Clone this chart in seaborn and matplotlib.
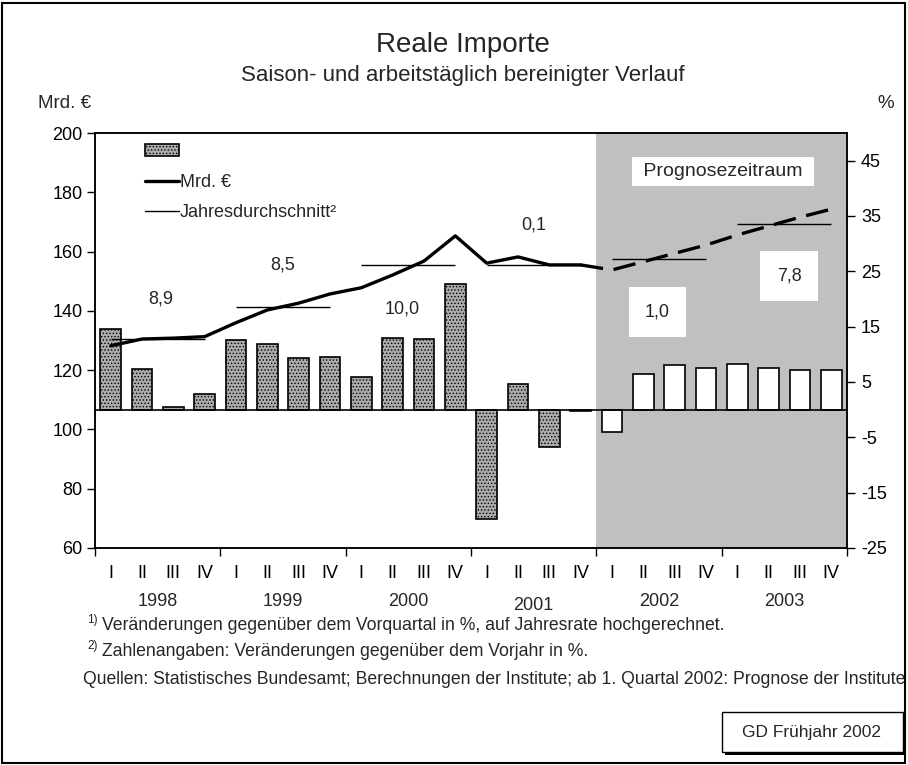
import numpy as np
import pandas as pd
import matplotlib.pyplot as plt
import seaborn as sns
from matplotlib.patches import Patch, Rectangle
from matplotlib.lines import Line2D
from matplotlib.transforms import blended_transform_factory

years = ['1998', '1999', '2000', '2001', '2002', '2003']
quarters = ['I', 'II', 'III', 'IV']

# Veraenderung gegenueber Vorquartal in %, auf Jahresrate hochgerechnet
change_pct = [14.6, 7.3, 0.5, 2.9, 12.5, 11.8, 9.4, 9.5,
              5.9, 13.0, 12.7, 22.7, -19.8, 4.6, -6.7, -0.2,
              -4.0, 6.4, 8.0, 7.6, 8.3, 7.6, 7.2, 7.2]

# Reale Importe in Mrd. Euro (Ist bis 2001 IV, Prognose ab 2001 IV)
imports_actual = [128.2, 130.5, 130.8, 131.3, 136.0, 140.3, 142.6, 145.7,
                  147.8, 152.1, 156.8, 165.3, 156.1, 158.2, 155.5, 155.5]
imports_forecast = [155.5, 153.8, 156.6, 159.4, 162.2, 165.6, 168.6, 171.6, 174.3]

annual_avg = [130.4, 141.3, 155.6, 155.5, 157.4, 169.4]
annual_growth = [8.9, 8.5, 10.0, 0.1, 1.0, 7.8]

forecast_start = 16  # 2002 I

sns.set_style('ticks')
plt.rcParams['font.family'] = ['Liberation Sans', 'DejaVu Sans']
plt.rcParams['axes.unicode_minus'] = False
plt.rcParams['hatch.linewidth'] = 0.6

n = len(years) * len(quarters)
labels = [f'{y} {q}' for y in years for q in quarters]
df = pd.DataFrame({
    'quartal': labels,
    'veraenderung': change_pct,
    'phase': ['Ist' if i < forecast_start else 'Prognose' for i in range(n)],
})

bar_grey = '#ababab'

fig = plt.figure(figsize=(9.08, 7.65), dpi=100)
ax = fig.add_axes([95 / 908, 217 / 765, 752 / 908, 415 / 765])

# Prognosezeitraum grau hinterlegt
ax.axvspan(forecast_start - 0.5, n - 0.5, color='#c0c0c0', lw=0, zorder=0)

sns.barplot(data=df, x='quartal', y='veraenderung', hue='phase',
            palette={'Ist': bar_grey, 'Prognose': 'white'}, dodge=False,
            width=0.65, edgecolor='black', linewidth=1.2, legend=False,
            ax=ax, zorder=2)
for bar in ax.containers[0]:
    bar.set_hatch('.....')

ax.axhline(0, color='black', lw=1.2, zorder=3)
ax.set_xlim(-0.5, n - 0.5)
ax.set_ylim(-25, 50)
ax.set_xlabel('')
ax.set_ylabel('')

ax2 = ax.twinx()
sns.lineplot(x=np.arange(len(imports_actual)), y=imports_actual, ax=ax2,
             color='black', lw=2.4)
fc_x = np.arange(forecast_start - 1, forecast_start - 1 + len(imports_forecast))
sns.lineplot(x=fc_x, y=imports_forecast, ax=ax2, color='black', lw=2.4,
             linestyle=(0, (6.8, 3.2)))
ax2.hlines(annual_avg, xmin=[4 * i for i in range(len(years))],
           xmax=[4 * i + 3 for i in range(len(years))], color='black', lw=1)
ax2.set_ylim(60, 200)
ax2.set_xlim(-0.5, n - 0.5)

# Achsen: % rechts, Mrd. Euro links
ax.yaxis.tick_right()
ax2.yaxis.tick_left()
ax.set_yticks(np.arange(-25, 46, 10))
ax2.set_yticks(np.arange(60, 201, 20))
ax.tick_params(axis='y', direction='out', length=6, width=1, labelsize=13,
               colors='black', pad=4)
ax2.tick_params(axis='y', direction='out', length=6, width=1, labelsize=13,
                colors='black', pad=3)
ax.set_xticks(np.arange(n))
ax.set_xticklabels(quarters * len(years), fontsize=13)
ax.set_xticks(np.arange(-0.5, n, 4), minor=True)
ax.tick_params(axis='x', which='major', length=0, pad=12.5, colors='black')
ax.tick_params(axis='x', which='minor', length=6, width=1, color='black')
for a in (ax, ax2):
    for s in a.spines.values():
        s.set_color('black')
        s.set_linewidth(1.1)

trans = blended_transform_factory(ax.transData, fig.transFigure)
for i, y in enumerate(years):
    yy = 1 - (605 if y == '2001' else 601) / 765
    ax.text(4 * i + 1.5, yy, y, transform=trans, ha='center', va='center',
            fontsize=13)

# Jahreswachstum
growth_pos = [(1.6, 144.0), (5.5, 155.5), (9.3, 140.6), (13.5, 169.0),
              (17.45, 139.6), (21.65, 151.8)]
for i, (g, (x, y)) in enumerate(zip(annual_growth, growth_pos)):
    txt = f'{g:.1f}'.replace('.', ',')
    box = dict(facecolor='white', edgecolor='none', boxstyle='square,pad=0.9') if i >= 4 else None
    ax2.text(x, y, txt, ha='center', va='center', fontsize=13, bbox=box, zorder=5)

ax2.text(19.55, 186.9, ' Prognosezeitraum ', ha='center', va='center', fontsize=14,
         bbox=dict(facecolor='white', edgecolor='none', boxstyle='square,pad=0.3'),
         zorder=5)

handles = [Patch(facecolor=bar_grey, hatch='.....', edgecolor='black', lw=1.2),
           Line2D([], [], color='black', lw=2.4),
           Line2D([], [], color='black', lw=1)]
ax2.legend(handles, ['', 'Mrd. €', 'Jahresdurchschnitt²'], loc='upper left',
           bbox_to_anchor=(0.066, 0.975), frameon=False, fontsize=13,
           handlelength=1.9, handletextpad=0.05, labelspacing=0.75,
           borderpad=0, borderaxespad=0)

# Titel und Einheiten
fig.text(463 / 908, 1 - 45 / 765, 'Reale Importe', ha='center', va='center', fontsize=20)
fig.text(463 / 908, 1 - 75 / 765, 'Saison- und arbeitstäglich bereinigter Verlauf',
         ha='center', va='center', fontsize=16)
fig.text(38 / 908, 1 - 103 / 765, 'Mrd. €', ha='left', va='center', fontsize=13.5)
fig.text(877 / 908, 1 - 103 / 765, '%', ha='left', va='center', fontsize=13.5)

# Fussnoten
fig.text(87 / 908, 1 - 620 / 765, '1)', ha='left', va='center', fontsize=8.5)
fig.text(102 / 908, 1 - 626 / 765,
         'Veränderungen gegenüber dem Vorquartal in %, auf Jahresrate hochgerechnet.',
         ha='left', va='center', fontsize=12.7)
fig.text(87 / 908, 1 - 646 / 765, '2)', ha='left', va='center', fontsize=8.5)
fig.text(102 / 908, 1 - 652 / 765, 'Zahlenangaben: Veränderungen gegenüber dem Vorjahr in %.',
         ha='left', va='center', fontsize=12.7)
fig.text(83 / 908, 1 - 680 / 765,
         'Quellen: Statistisches Bundesamt; Berechnungen der Institute; '
         'ab 1. Quartal 2002: Prognose der Institute',
         ha='left', va='center', fontsize=12.7)

# Kasten unten rechts mit Schatten
fig.patches.append(Rectangle((725 / 908, 1 - 755 / 765), 181 / 908, 40 / 765,
                             transform=fig.transFigure, facecolor='black', lw=0))
fig.patches.append(Rectangle((722 / 908, 1 - 752 / 765), 181 / 908, 40 / 765,
                             transform=fig.transFigure, facecolor='white',
                             edgecolor='black', lw=1))
fig.text(812 / 908, 1 - 732 / 765, 'GD Frühjahr 2002', ha='center', va='center', fontsize=12.5)

# Rahmen um die Grafik
fig.patches.append(Rectangle((2 / 908, 2 / 765), 903 / 908, 760 / 765,
                             transform=fig.transFigure, fill=False,
                             edgecolor='black', lw=1.5))

fig.savefig('out.png', dpi=100)
